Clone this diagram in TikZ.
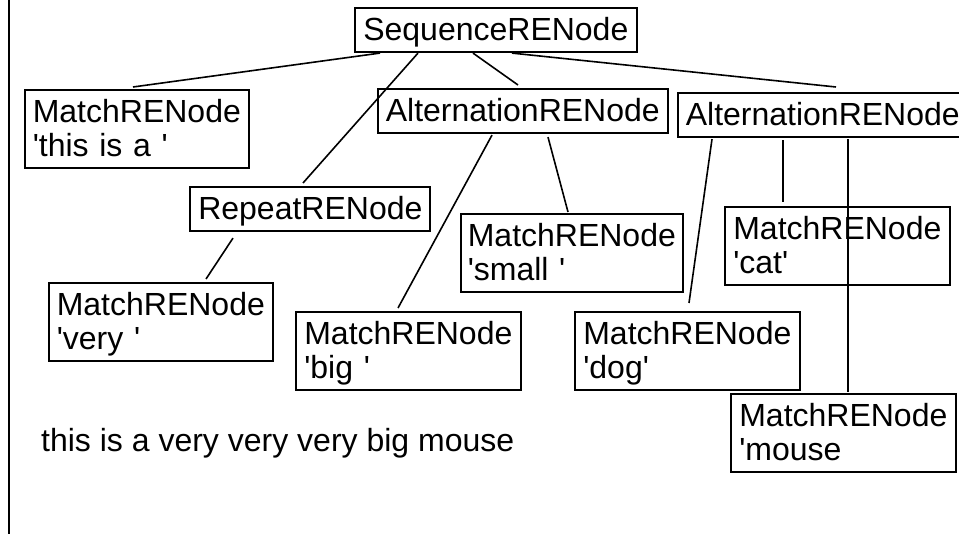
\documentclass[tikz,border=0pt]{standalone}
\usepackage{fontspec}
\setmainfont{Liberation Sans}[Ligatures=TeXOff]
\usetikzlibrary{calc}
% struts fixing the first baseline and the bottom padding of each box
\newcommand\topst{\rule{0pt}{32.5pt}}
\newcommand\botst{\rule[-12pt]{0pt}{12pt}}
\tikzset{
  treebox/.style={draw, line width=1.6pt, anchor=north west, inner xsep=8.5pt,
    inner ysep=0pt, align=left, font=\fontsize{32}{34}\selectfont},
  edge/.style={line width=1.6pt},
}
\begin{document}
\begin{tikzpicture}[x=1pt,y=-1pt]
\useasboundingbox (0,0) rectangle (959,534);
\fill[white] (0,0) rectangle (959,534);
\clip (0,0) rectangle (959,534);

% margin rule on the left
\draw[line width=2pt] (8.5,0) -- (8.5,534);

% tree nodes
\node[treebox, text width=265pt] (seq)    at (354,7)   {\topst SequenceRENode\botst};
\node[treebox, text width=208pt, inner xsep=8pt] (m1) at (24,89) {\topst MatchRENode\\'this is a '\botst};
\node[treebox, text width=274pt, inner xsep=8pt] (alt1) at (377,88) {\topst AlternationRENode\botst};
\node[treebox, text width=274pt, inner xsep=8pt] (alt2) at (677,92) {\topst AlternationRENode\botst};
\node[treebox, text width=223pt] (rep)    at (189,186) {\topst RepeatRENode\botst};
\node[treebox, text width=208pt, inner xsep=7pt] (msmall) at (460,213) {\topst MatchRENode\\'small '\botst};
\node[treebox, text width=208pt] (mcat)   at (724,206) {\topst MatchRENode\\'cat'\botst};
\node[treebox, text width=208pt, inner xsep=8pt] (mvery) at (48,282) {\topst MatchRENode\\'very '\botst};
\node[treebox, text width=208pt] (mbig)   at (295,311) {\topst MatchRENode\\'big '\botst};
\node[treebox, text width=208pt] (mdog)   at (574,311) {\topst MatchRENode\\'dog'\botst};
\node[treebox, text width=208pt] (mmouse) at (730,393) {\topst MatchRENode\\'mouse\botst};

% the matched sentence
\node[anchor=base west, inner sep=0pt, font=\fontsize{32}{34}\selectfont] (sentence)
  at (41,452) {this is a very very very big mouse};

% connectors
\draw[edge] ($(seq.south west)+(26,0)$)  -- ($(m1.north west)+(109,-2)$);
\draw[edge] ($(seq.south west)+(64,0)$)  -- ($(rep.north west)+(114,-3)$);
\draw[edge] ($(seq.south west)+(119,0)$) -- ($(alt1.north west)+(141,-3)$);
\draw[edge] ($(seq.south west)+(158,0)$) -- ($(alt2.north west)+(159,-5)$);
\draw[edge] ($(rep.south west)+(44,6)$)  -- ($(mvery.north west)+(158,-3)$);
\draw[edge] ($(alt1.south west)+(115,1)$) -- ($(mbig.north west)+(103,-3)$);
\draw[edge] ($(alt1.south west)+(171,3)$) -- ($(msmall.north west)+(108,-1)$);
\draw[edge] ($(alt2.south west)+(35,1)$)  -- ($(mdog.north west)+(115,-8)$);
\draw[edge] ($(alt2.south west)+(106,2)$) -- ($(mcat.north west)+(59,-4)$);
\draw[edge] ($(alt2.south west)+(171,1)$) -- ($(mmouse.north west)+(118,-1)$);
\end{tikzpicture}
\end{document}
